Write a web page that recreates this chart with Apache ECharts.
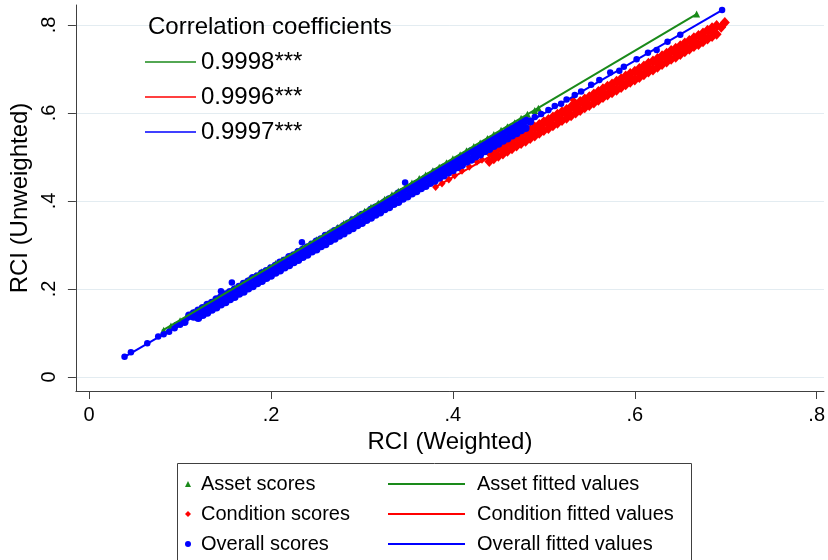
<!DOCTYPE html>
<html>
<head>
<meta charset="utf-8">
<script src="https://cdn.jsdelivr.net/npm/echarts@6/dist/echarts.min.js"></script>
<style>
html, body { margin: 0; padding: 0; background: #fff; }
#main { width: 828px; height: 560px; }
</style>
</head>
<body>
<div id="main"></div>
<script>
// RCI weighted (x) vs unweighted (y)
var axisTicks = [0, 0.2, 0.4, 0.6, 0.8];
var fitNames = ['Asset fitted values', 'Condition fitted values', 'Overall fitted values'];
var corrText = ['0.9998***', '0.9996***', '0.9997***'];

var assetScores = [
	[0.082,0.106],[0.09,0.116],[0.10,0.128],[0.108,0.139],[0.115,0.147],[0.122,0.156],[0.13,0.165],[0.138,0.176],
	[0.145,0.184],[0.152,0.193],[0.16,0.202],[0.168,0.212],[0.175,0.221],[0.183,0.230],[0.19,0.239],[0.198,0.249],
	[0.205,0.258],[0.212,0.266],[0.22,0.275],[0.228,0.285],[0.235,0.294],[0.243,0.303],[0.25,0.312],[0.258,0.322],
	[0.265,0.330],[0.273,0.340],[0.28,0.349],[0.288,0.359],[0.295,0.367],[0.303,0.377],[0.31,0.386],[0.318,0.395],
	[0.325,0.404],[0.333,0.414],[0.34,0.422],[0.348,0.432],[0.355,0.441],[0.363,0.451],[0.37,0.459],[0.378,0.469],
	[0.385,0.477],[0.393,0.487],[0.40,0.496],[0.408,0.505],[0.415,0.514],[0.423,0.524],[0.43,0.532],[0.438,0.542],
	[0.445,0.551],[0.453,0.561],[0.46,0.569],[0.468,0.578],[0.475,0.588],[0.482,0.597],[0.49,0.606],[0.494,0.611],
	[0.668,0.825]
];

// dense part of the condition cloud
var conditionBand = [
	[0.44,0.510],[0.45,0.522],[0.46,0.533],[0.47,0.545],[0.48,0.556],[0.49,0.568],[0.50,0.580],[0.51,0.591],[0.52,0.603],
	[0.53,0.614],[0.54,0.626],[0.55,0.637],[0.56,0.649],[0.57,0.661],[0.58,0.672],[0.59,0.684],[0.60,0.695],[0.61,0.707],
	[0.62,0.718],[0.63,0.730],[0.64,0.742],[0.65,0.753],[0.66,0.765],[0.67,0.776],[0.68,0.788],[0.69,0.799],[0.699,0.806],
	[0.445,0.516],[0.455,0.527],[0.465,0.539],[0.475,0.551],[0.485,0.562],[0.495,0.574],[0.505,0.585],[0.515,0.597],
	[0.525,0.608],[0.535,0.620],[0.545,0.632],[0.555,0.643],[0.565,0.655],[0.575,0.666],[0.585,0.678],[0.595,0.690],
	[0.605,0.701],[0.615,0.713],[0.625,0.724],[0.635,0.736],[0.645,0.747],[0.655,0.759],[0.665,0.771],[0.675,0.782],
	[0.685,0.794],
	[0.445,0.506],[0.455,0.517],[0.465,0.529],[0.475,0.541],[0.485,0.552],[0.495,0.564],[0.505,0.575],[0.515,0.587],
	[0.525,0.598],[0.535,0.610],[0.545,0.622],[0.555,0.633],[0.565,0.645],[0.575,0.656],[0.585,0.668],[0.595,0.680],
	[0.605,0.691],[0.615,0.703],[0.625,0.714],[0.635,0.726],[0.645,0.737],[0.655,0.749],[0.665,0.761],[0.675,0.772],
	[0.685,0.784],[0.695,0.795],
	[0.445,0.496],[0.455,0.507],[0.465,0.519],[0.475,0.531],[0.485,0.542],[0.495,0.554],[0.505,0.565],[0.515,0.577],
	[0.525,0.588],[0.535,0.600],[0.545,0.612],[0.555,0.623],[0.565,0.635],[0.575,0.646],[0.585,0.658],[0.595,0.670],
	[0.605,0.681],[0.615,0.693],[0.625,0.704],[0.635,0.716],[0.645,0.727],[0.655,0.739],[0.665,0.751],[0.675,0.762],
	[0.685,0.774],
	[0.44,0.490],[0.45,0.502],[0.46,0.513],[0.47,0.525],[0.48,0.536],[0.49,0.548],[0.50,0.560],[0.51,0.571],[0.52,0.583],
	[0.53,0.594],[0.54,0.606],[0.55,0.617],[0.56,0.629],[0.57,0.641],[0.58,0.652],[0.59,0.664],[0.60,0.675],[0.61,0.687],
	[0.62,0.698],[0.63,0.710],[0.64,0.722],[0.65,0.733],[0.66,0.745],[0.67,0.756],[0.68,0.768],[0.69,0.779]
];
// loose points at the low end of the condition cloud
var conditionDots = [
	[0.381,0.432],[0.388,0.440],[0.3955,0.449],[0.402,0.458],[0.410,0.469],[0.418,0.478],[0.4264,0.489],[0.432,0.494],
	[0.439,0.515],[0.532,0.630]
];

// dense part of the overall cloud
var overallBand = [
	[0.11,0.140],[0.12,0.151],[0.13,0.164],[0.14,0.177],[0.15,0.188],[0.16,0.199],[0.17,0.212],[0.18,0.225],[0.19,0.236],
	[0.20,0.247],[0.21,0.260],[0.22,0.273],[0.23,0.284],[0.24,0.295],[0.25,0.308],[0.26,0.321],[0.27,0.332],[0.28,0.343],
	[0.29,0.356],[0.30,0.369],[0.31,0.380],[0.32,0.391],[0.33,0.404],[0.34,0.417],[0.35,0.428],[0.36,0.439],[0.37,0.452],
	[0.38,0.465],[0.39,0.476],[0.40,0.487],[0.41,0.500],[0.42,0.513],[0.43,0.524],[0.44,0.535],[0.45,0.548],[0.46,0.561],
	[0.47,0.572],[0.48,0.583],
	[0.115,0.145],[0.125,0.157],[0.135,0.169],[0.145,0.181],[0.155,0.193],[0.165,0.205],[0.175,0.217],[0.185,0.229],
	[0.195,0.241],[0.205,0.253],[0.215,0.265],[0.225,0.277],[0.235,0.289],[0.245,0.301],[0.255,0.313],[0.265,0.325],
	[0.275,0.337],[0.285,0.349],[0.295,0.361],[0.305,0.373],[0.315,0.385],[0.325,0.397],[0.335,0.409],[0.345,0.421],
	[0.355,0.433],[0.365,0.445],[0.375,0.457],[0.385,0.469],[0.395,0.481],[0.405,0.493],[0.415,0.505],[0.425,0.517],
	[0.435,0.529],[0.445,0.541],[0.455,0.553],[0.465,0.565],[0.475,0.577],
	[0.105,0.125],[0.115,0.137],[0.125,0.149],[0.135,0.161],[0.145,0.173],[0.155,0.185],[0.165,0.197],[0.175,0.209],
	[0.185,0.221],[0.195,0.233],[0.205,0.245],[0.215,0.257],[0.225,0.269],[0.235,0.281],[0.245,0.293],[0.255,0.305],
	[0.265,0.317],[0.275,0.329],[0.285,0.341],[0.295,0.353],[0.305,0.365],[0.315,0.377],[0.325,0.389],[0.335,0.401],
	[0.345,0.413],[0.355,0.425],[0.365,0.437],[0.375,0.449],[0.385,0.461],[0.395,0.473],[0.405,0.485],[0.415,0.497],
	[0.425,0.509],[0.435,0.521],[0.445,0.533],[0.455,0.545],[0.465,0.557],[0.475,0.569],[0.485,0.581],
	[0.125,0.141],[0.135,0.153],[0.145,0.165],[0.155,0.177],[0.165,0.189],[0.175,0.201],[0.185,0.213],[0.195,0.225],
	[0.205,0.237],[0.215,0.249],[0.225,0.261],[0.235,0.273],[0.245,0.285],[0.255,0.297],[0.265,0.309],[0.275,0.321],
	[0.285,0.333],[0.295,0.345],[0.305,0.357],[0.315,0.369],[0.325,0.381],[0.335,0.393],[0.345,0.405],[0.355,0.417],
	[0.365,0.429],[0.375,0.441],[0.385,0.453],[0.395,0.465],[0.405,0.477],[0.415,0.489],[0.425,0.501],[0.435,0.513],
	[0.445,0.525],[0.455,0.537],[0.465,0.549],[0.475,0.561],
	[0.12,0.134],[0.13,0.146],[0.14,0.158],[0.15,0.170],[0.16,0.182],[0.17,0.194],[0.18,0.206],[0.19,0.218],[0.20,0.230],
	[0.21,0.242],[0.22,0.254],[0.23,0.266],[0.24,0.278],[0.25,0.290],[0.26,0.302],[0.27,0.314],[0.28,0.326],[0.29,0.338],
	[0.30,0.350],[0.31,0.362],[0.32,0.374],[0.33,0.386],[0.34,0.398],[0.35,0.410],[0.36,0.422],[0.37,0.434],[0.38,0.446],
	[0.39,0.458],[0.40,0.470],[0.41,0.482],[0.42,0.494],[0.43,0.506],[0.44,0.518],[0.45,0.530],[0.46,0.542],[0.47,0.554],
	[0.48,0.566]
];
// loose points of the overall cloud (ends and outliers)
var overallDots = [
	[0.039,0.046],[0.046,0.056],[0.064,0.077],[0.076,0.092],[0.082,0.097],[0.088,0.103],[0.094,0.111],[0.096,0.118],
	[0.10,0.119],[0.145,0.195],[0.157,0.215],[0.234,0.306],[0.3475,0.442],
	[0.49,0.591],[0.497,0.598],[0.505,0.607],[0.512,0.616],[0.519,0.621],[0.525,0.631],[0.534,0.641],[0.541,0.649],
	[0.552,0.664],[0.561,0.675],[0.573,0.692],[0.583,0.696],[0.588,0.705],[0.602,0.722],[0.6145,0.737],[0.624,0.743],
	[0.636,0.762],[0.650,0.778],[0.696,0.834]
];

// fitted lines, end points
var assetFit = [[0.08, 0.105], [0.668, 0.825]];
var conditionFit = [[0.381, 0.432], [0.699, 0.800]];
var overallFit = [[0.039, 0.046], [0.696, 0.834]];

var GREEN = '#1a8a1a', RED = '#ff0000', BLUE = '#0000ff';
var FONT = "'Liberation Sans', Arial, sans-serif";
var AXIS = '#404040';

function tickFmt(v) {
	if (v === 0) return '0';
	return String(+v.toFixed(1)).replace(/^0/, '');
}

function pts(name, symbol, size, color, data) {
	return {
		name: name, type: 'scatter', symbol: symbol, symbolSize: size, silent: true,
		itemStyle: { color: color, opacity: 1 }, data: data
	};
}

function fit(name, color, data) {
	return {
		name: name, type: 'line', symbol: 'none', silent: true,
		itemStyle: { color: color }, lineStyle: { color: color, width: 2 }, data: data
	};
}

var chart = echarts.init(document.getElementById('main'));

var option = {
	animation: false,
	textStyle: { fontFamily: FONT },
	title: {
		text: 'Correlation coefficients',
		left: 148, top: 15, padding: 0,
		textStyle: { fontSize: 24, fontWeight: 'normal', color: '#000', fontFamily: FONT }
	},
	grid: { left: 74, right: 0, top: 5, bottom: 169 },
	xAxis: {
		type: 'value',
		min: -0.0145, max: 0.808,
		name: 'RCI (Weighted)',
		nameLocation: 'middle',
		nameGap: 30,
		nameTextStyle: { fontSize: 24, color: '#000', fontFamily: FONT },
		axisLine: { onZero: false, lineStyle: { color: AXIS, width: 1 } },
		axisTick: { customValues: axisTicks, length: 8, lineStyle: { color: AXIS } },
		axisLabel: { customValues: axisTicks, formatter: tickFmt, fontSize: 20, color: '#000', margin: 14 },
		splitLine: { show: false }
	},
	yAxis: {
		type: 'value',
		min: -0.0318, max: 0.8455,
		name: 'RCI (Unweighted)',
		nameLocation: 'middle',
		nameRotate: 90,
		nameGap: 31,
		nameTextStyle: { fontSize: 24, color: '#000', fontFamily: FONT },
		axisLine: { show: true, onZero: false, lineStyle: { color: AXIS, width: 1 } },
		axisTick: { show: true, customValues: axisTicks, length: 8, lineStyle: { color: AXIS } },
		axisLabel: { customValues: axisTicks, formatter: tickFmt, rotate: 90, fontSize: 20, color: '#000', margin: 16 },
		splitLine: { show: true, lineStyle: { color: '#e3ecf1', width: 1 } }
	},
	legend: [
		{
			data: ['Asset scores', 'Condition scores', 'Overall scores'],
			orient: 'vertical', left: 185, top: 474, padding: 0,
			itemWidth: 6, itemHeight: 6, itemGap: 10,
			textStyle: { fontSize: 20, lineHeight: 20, color: '#000', fontFamily: FONT, padding: [0, 0, 0, 5] },
			selectedMode: false
		},
		{
			data: fitNames, icon: 'rect',
			orient: 'vertical', left: 388, top: 474, padding: 0,
			itemWidth: 77, itemHeight: 2, itemGap: 10,
			textStyle: { fontSize: 20, lineHeight: 20, color: '#000', fontFamily: FONT, padding: [0, 0, 0, 7] },
			selectedMode: false
		},
		{
			data: fitNames, icon: 'rect',
			orient: 'vertical', left: 145, top: 50, padding: 0,
			itemWidth: 51, itemHeight: 1.6, itemGap: 11,
			formatter: function(name) {
				return corrText[fitNames.indexOf(name)];
			},
			textStyle: { fontSize: 24, lineHeight: 24, color: '#000', fontFamily: FONT },
			selectedMode: false
		}
	],
	graphic: [{
		type: 'rect',
		shape: { x: 177.5, y: 463.5, width: 514, height: 120 },
		style: { fill: 'none', stroke: AXIS, lineWidth: 1 },
		silent: true
	}],
	series: [
		pts('Asset scores', 'triangle', 7, GREEN, assetScores),
		pts('Condition scores', 'diamond', [10, 11], RED, conditionBand),
		pts('Condition scores', 'diamond', [7, 8], RED, conditionDots),
		pts('Overall scores', 'circle', 8, BLUE, overallBand),
		pts('Overall scores', 'circle', 6.5, BLUE, overallDots),
		fit(fitNames[0], GREEN, assetFit),
		fit(fitNames[1], RED, conditionFit),
		fit(fitNames[2], BLUE, overallFit)
	]
};

chart.setOption(option);
</script>
</body>
</html>
